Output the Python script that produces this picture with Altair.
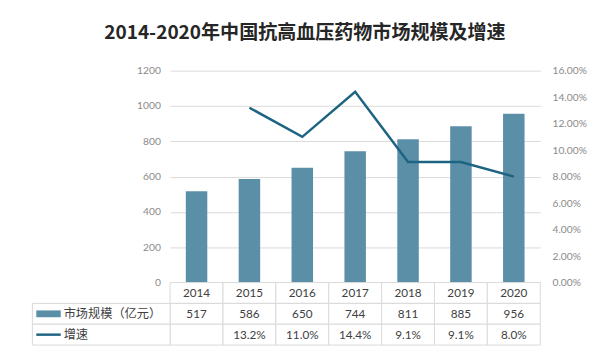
import altair as alt
import pandas as pd

# ---- data ----
years = ["2014", "2015", "2016", "2017", "2018", "2019", "2020"]
market_size = [517, 586, 650, 744, 811, 885, 956]          # 亿元
growth_pct = [None, 13.2, 11.0, 14.4, 9.1, 9.1, 8.0]       # %
size_label = "市场规模（亿元）"
growth_label = "增速"
title_text = "2014-2020年中国抗高血压药物市场规模及增速"
left_ticks = [0, 200, 400, 600, 800, 1000, 1200]
right_ticks = [0, 2, 4, 6, 8, 10, 12, 14, 16]

# ---- styles ----
BAR = "#5b8fa8"
LINE = "#1d6382"
GRID = "#d9d9d9"
AX = "#8a8a8a"
TXT = "#404040"
CJK = "Noto Sans CJK SC"
NUM = "Lato"
W, H, TH = 379, 217, 64

main_df = pd.DataFrame({"year": years, "size": market_size, "growth": growth_pct})

xscale = alt.Scale(domain=years, paddingInner=0, paddingOuter=0)

bars = alt.Chart(main_df).mark_bar(size=22, color=BAR).encode(
    x=alt.X("year:N", scale=xscale,
            axis=alt.Axis(labels=False, ticks=False, title=None, domainColor=GRID)),
    y=alt.Y("size:Q", scale=alt.Scale(domain=[0, 1200]),
            axis=alt.Axis(values=left_ticks, format="d", title=None, grid=True, gridColor=GRID,
                          domain=False, ticks=False, labelColor=AX, labelPadding=10,
                          labelFont=NUM, labelFontSize=10.5)),
)

line = alt.Chart(main_df).transform_filter("datum.growth != null").mark_line(
    color=LINE, strokeWidth=2.5).encode(
    x=alt.X("year:N", scale=xscale, axis=None),
    y=alt.Y("growth:Q", scale=alt.Scale(domain=[0, 16]),
            axis=alt.Axis(orient="right", values=right_ticks, title=None, grid=False,
                          domain=False, ticks=False, labelColor=AX, labelPadding=12,
                          labelFont=NUM, labelFontSize=10.5,
                          labelExpr="format(datum.value, '.2f') + '%'")),
)

title = alt.Chart(pd.DataFrame({"t": [title_text]})).mark_text(
    font=CJK, fontSize=19.5, fontWeight="bold", color="#262626").encode(
    x=alt.value(138), y=alt.value(-38), text="t:N")

top = alt.layer(bars, line, title).resolve_scale(y="independent").properties(width=W, height=H)

# ---- data table below ----
rows = ["r0", "r1", "r2"]
cells = []
for i, yr in enumerate(years):
    cells.append({"year": yr, "row": "r0", "text": yr})
    cells.append({"year": yr, "row": "r1", "text": str(market_size[i])})
    g = growth_pct[i]
    cells.append({"year": yr, "row": "r2", "text": "" if g is None else f"{g:.1f}%"})
cell_df = pd.DataFrame(cells)
head_df = pd.DataFrame({"row": ["r1", "r2"], "label": [size_label, growth_label]})

yscale = alt.Scale(domain=rows, paddingInner=0, paddingOuter=0)
tx = alt.X("year:N", scale=xscale, axis=None)
ty = alt.Y("row:N", scale=yscale, axis=None)

cell_rect = alt.Chart(cell_df).mark_rect(fill="white", stroke=GRID, strokeWidth=1).encode(x=tx, y=ty)
cell_text = alt.Chart(cell_df).mark_text(font=NUM, fontSize=12, color=TXT).encode(x=tx, y=ty, text="text:N")
head_rect = alt.Chart(head_df).mark_rect(fill="white", stroke=GRID, strokeWidth=1).encode(
    x=alt.value(-141), x2=alt.value(0), y=ty)
sym_bar = alt.Chart(head_df).transform_filter("datum.row == 'r1'").mark_rule(
    color=BAR, strokeWidth=7, strokeCap="butt").encode(x=alt.value(-137), x2=alt.value(-112), y=ty)
sym_line = alt.Chart(head_df).transform_filter("datum.row == 'r2'").mark_rule(
    color=LINE, strokeWidth=2.5, strokeCap="butt").encode(x=alt.value(-137), x2=alt.value(-112), y=ty)
head_text = alt.Chart(head_df).mark_text(font=CJK, fontSize=12.5, color=TXT, align="left").encode(
    x=alt.value(-109), y=ty, text="label:N")

bottom = alt.layer(cell_rect, head_rect, cell_text, sym_bar, sym_line, head_text).properties(width=W, height=TH)

chart = alt.vconcat(top, bottom, spacing=0, bounds="flush").properties(
    padding={"left": 24, "top": 12, "right": 5, "bottom": 5}
).configure_view(stroke=None)

chart.save("out.html", embed_options={"renderer": "svg", "actions": False})
